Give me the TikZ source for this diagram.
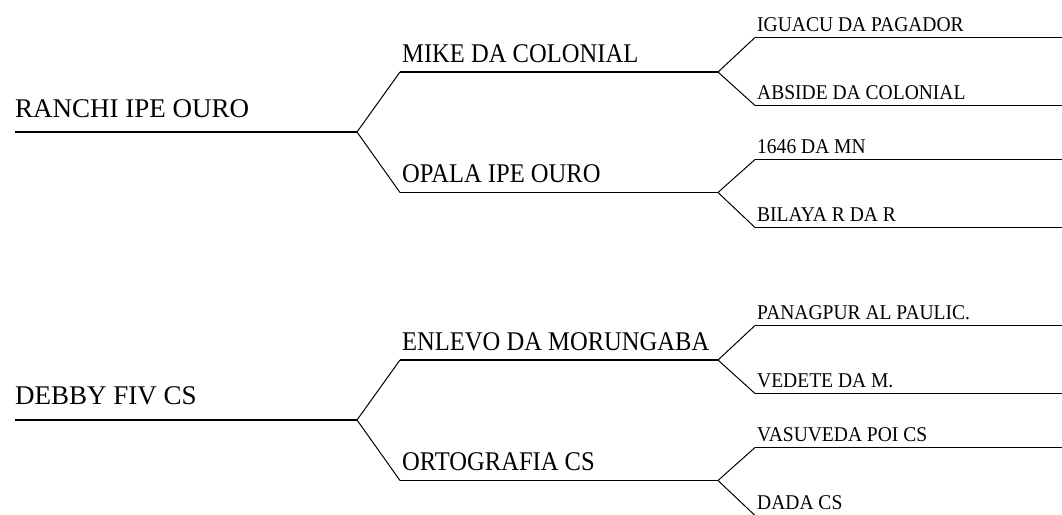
\documentclass[tikz,border=0pt]{standalone}
\usepackage{fontspec}
\setmainfont{Liberation Serif}
\newfontfamily\namefont[FakeStretch=0.93]{Liberation Serif}
\newfontfamily\midfont[FakeStretch=0.91]{Liberation Serif}
\tikzset{
  bigname/.style={font=\fontsize{27}{30}\selectfont, inner sep=0pt, anchor=base west},
  midname/.style={font=\midfont\fontsize{27}{30}\selectfont, inner sep=0pt, anchor=base west},
  smallname/.style={font=\namefont\fontsize{21}{24}\selectfont, inner sep=0pt, anchor=base west},
  linemain/.style={line width=1.7pt, black},
  linesub/.style={line width=1.2pt, black},
  linediag/.style={line width=1pt, black},
}
\begin{document}
\begin{tikzpicture}[x=1pt,y=-1pt]
\useasboundingbox (0,0) rectangle (1062,514);
% ---------- top pedigree ----------
\coordinate (r1s) at (14.5,132);  \coordinate (r1e) at (357,132);
\coordinate (a1s) at (400,72);    \coordinate (a1e) at (718,72);
\coordinate (b1s) at (400,192.5); \coordinate (b1e) at (718,192.5);
\coordinate (aa1s) at (755,37.5); \coordinate (aa1e) at (1070,37.5);
\coordinate (ab1s) at (755,105.5);\coordinate (ab1e) at (1070,105.5);
\coordinate (ba1s) at (755,159.5);\coordinate (ba1e) at (1070,159.5);
\coordinate (bb1s) at (755,227.5);\coordinate (bb1e) at (1070,227.5);
\node[bigname] (r1) at (15,117.5) {RANCHI IPE OURO};
\node[midname] (a1) at (402,62) {MIKE DA COLONIAL};
\node[midname] (b1) at (402,182.5) {OPALA IPE OURO};
\node[smallname] (aa1) at (757,31.5) {IGUACU DA PAGADOR};
\node[smallname] (ab1) at (757,99.5) {ABSIDE DA COLONIAL};
\node[smallname] (ba1) at (757,153.5) {1646 DA MN};
\node[smallname] (bb1) at (757,221.5) {BILAYA R DA R};
\draw[linemain] (r1s) -- (r1e);
\draw[linediag] (r1e) -- (a1s);
\draw[linediag] (r1e) -- (b1s);
\draw[linemain] (a1s) -- (a1e);
\draw[linemain] (b1s) -- (b1e);
\draw[linediag] (a1e) -- (aa1s);
\draw[linediag] (a1e) -- (ab1s);
\draw[linediag] (b1e) -- (ba1s);
\draw[linediag] (b1e) -- (bb1s);
\draw[linesub] (aa1s) -- (aa1e);
\draw[linesub] (ab1s) -- (ab1e);
\draw[linesub] (ba1s) -- (ba1e);
\draw[linesub] (bb1s) -- (bb1e);
% ---------- bottom pedigree ----------
\coordinate (r2s) at (14.5,420);  \coordinate (r2e) at (357,420);
\coordinate (a2s) at (400,360);   \coordinate (a2e) at (718,360);
\coordinate (b2s) at (400,480.5); \coordinate (b2e) at (718,480.5);
\coordinate (aa2s) at (755,325.5);\coordinate (aa2e) at (1070,325.5);
\coordinate (ab2s) at (755,393.5);\coordinate (ab2e) at (1070,393.5);
\coordinate (ba2s) at (755,447.5);\coordinate (ba2e) at (1070,447.5);
\coordinate (bb2s) at (755,515.5);\coordinate (bb2e) at (1070,515.5);
\node[bigname] (r2) at (15,404.5) {DEBBY FIV CS};
\node[midname] (a2) at (402,350) {ENLEVO DA MORUNGABA};
\node[midname] (b2) at (402,470.5) {ORTOGRAFIA CS};
\node[smallname] (aa2) at (757,319.5) {PANAGPUR AL PAULIC.};
\node[smallname] (ab2) at (757,387.5) {VEDETE DA M.};
\node[smallname] (ba2) at (757,441.5) {VASUVEDA POI CS};
\node[smallname] (bb2) at (757,509.5) {DADA CS};
\draw[linemain] (r2s) -- (r2e);
\draw[linediag] (r2e) -- (a2s);
\draw[linediag] (r2e) -- (b2s);
\draw[linemain] (a2s) -- (a2e);
\draw[linemain] (b2s) -- (b2e);
\draw[linediag] (a2e) -- (aa2s);
\draw[linediag] (a2e) -- (ab2s);
\draw[linediag] (b2e) -- (ba2s);
\draw[linediag] (b2e) -- (bb2s);
\draw[linesub] (aa2s) -- (aa2e);
\draw[linesub] (ab2s) -- (ab2e);
\draw[linesub] (ba2s) -- (ba2e);
\draw[linesub] (bb2s) -- (bb2e);
\end{tikzpicture}
\end{document}
